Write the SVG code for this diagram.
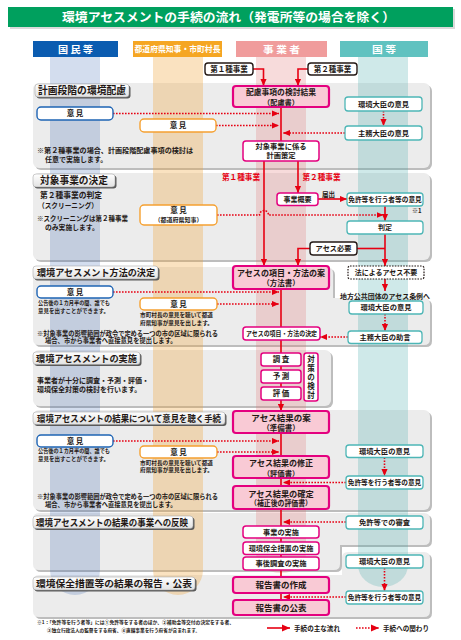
<svg xmlns="http://www.w3.org/2000/svg" width="461" height="640" viewBox="0 0 461 640">
<style>
.j{font-family:"Noto Sans CJK JP","Noto Sans CJK SC",sans-serif;font-weight:700;fill:#231815}
.w{fill:#fff}
.r{fill:#E60012}
.m{text-anchor:middle}
.pm{fill:#fff;stroke:#E4007F;stroke-width:1.5}
.pp{fill:#F9CAD5;stroke:#E4007F;stroke-width:2.2}
.pt{fill:#fff;stroke:#4DB6B6;stroke-width:1.3}
.pb{fill:#fff;stroke:#1E64B4;stroke-width:1.4}
.po{fill:#fff;stroke:#F5A030;stroke-width:1.4}
.pk{fill:#fff;stroke:#231815;stroke-width:1.4}
.pd{fill:#fff;stroke:#231815;stroke-width:1.2;stroke-dasharray:1.6 1.2}
.sol{stroke:#E60012;stroke-width:1.6;fill:none}
.dot{stroke:#E60012;stroke-width:1.6;fill:none;stroke-dasharray:1.6 1.4}
.pan{fill:#ECECEC}
.sh{fill:#BDBDBD}
.lab{fill:url(#lg);stroke:#9A9A9A;stroke-width:0.5}
.lsh{fill:#5A5A5A}
</style>
<defs>
<linearGradient id="lg" x1="0" y1="0" x2="0" y2="1"><stop offset="0" stop-color="#FFFFFF"/><stop offset="1" stop-color="#E2E2E2"/></linearGradient>
<marker id="ah" viewBox="0 0 8 8" refX="8" refY="4" markerWidth="7" markerHeight="7" markerUnits="userSpaceOnUse" orient="auto"><path d="M0,0.5 L8,4 L0,7.5 Z" fill="#E60012"/></marker>
<marker id="ahL" viewBox="0 0 8 8" refX="8" refY="4" markerWidth="10" markerHeight="8" markerUnits="userSpaceOnUse" orient="auto"><path d="M0,0.5 L8,4 L0,7.5 Z" fill="#E60012"/></marker>
</defs>
<rect width="461" height="640" fill="#fff"/>

<g id="title">
<rect x="10" y="9" width="445" height="20" fill="#DADADA"/>
<rect x="8" y="7" width="445" height="20" fill="#00A05E"/>
<text class="j w m" x="228.5" y="22" font-size="12.5" textLength="333" lengthAdjust="spacingAndGlyphs">環境アセスメントの手続の流れ（発電所等の場合を除く）</text>
</g>

<g id="headers">
<rect x="33" y="41" width="85" height="16" fill="#0B5CB0"/>
<text class="j w m" x="75.5" y="52.5" font-size="9.5" textLength="35" lengthAdjust="spacingAndGlyphs">国 民 等</text>
<rect x="133" y="41" width="89" height="16" fill="#F5A623"/>
<text class="j w m" x="177.5" y="52" font-size="8.5" textLength="86" lengthAdjust="spacingAndGlyphs">都道府県知事・市町村長</text>
<rect x="236" y="41" width="91" height="16" fill="#F09C9C"/>
<text class="j w m" x="281.5" y="52.5" font-size="9.5" textLength="37" lengthAdjust="spacingAndGlyphs">事 業 者</text>
<rect x="340" y="41" width="88" height="16" fill="#60C2C0"/>
<text class="j w m" x="384" y="52.5" font-size="9.5" textLength="24" lengthAdjust="spacingAndGlyphs">国 等</text>
</g>

<g id="panels">
<rect class="sh" x="35" y="85" width="397" height="85" rx="6"/>
<rect class="pan" x="33" y="83" width="397" height="85" rx="6"/>
<rect class="sh" x="35" y="175" width="397" height="87" rx="6"/>
<rect class="pan" x="33" y="173" width="397" height="87" rx="6"/>
<path class="sh" transform="translate(2,2)" d="M39,267 H327 Q333,267 333,273 V298 H424 Q430,298 430,304 V339 Q430,345 424,345 H39 Q33,345 33,339 V273 Q33,267 39,267 Z"/>
<path class="pan" d="M39,267 H327 Q333,267 333,273 V298 H424 Q430,298 430,304 V339 Q430,345 424,345 H39 Q33,345 33,339 V273 Q33,267 39,267 Z"/>
<rect class="sh" x="35" y="352" width="298" height="56" rx="6"/>
<rect class="pan" x="33" y="350" width="298" height="56" rx="6"/>
<rect class="sh" x="35" y="412" width="397" height="100" rx="6"/>
<rect class="pan" x="33" y="410" width="397" height="100" rx="6"/>
<path class="sh" transform="translate(2,2)" d="M39,513 H424 Q430,513 430,519 V539 Q430,545 424,545 H340 V564 Q340,570 334,570 H39 Q33,570 33,564 V519 Q33,513 39,513 Z"/>
<path class="pan" d="M39,513 H424 Q430,513 430,519 V539 Q430,545 424,545 H340 V564 Q340,570 334,570 H39 Q33,570 33,564 V519 Q33,513 39,513 Z"/>
<path class="sh" transform="translate(2,2)" d="M348,552 H424 Q430,552 430,558 V611 Q430,617 424,617 H39 Q33,617 33,611 V581 Q33,575 39,575 H342 V558 Q342,552 348,552 Z"/>
<path class="pan" d="M348,552 H424 Q430,552 430,558 V611 Q430,617 424,617 H39 Q33,617 33,611 V581 Q33,575 39,575 H342 V558 Q342,552 348,552 Z"/>
</g>

<g id="bands">
<path d="M50,57 H100 V570 A25,25 0 0 1 50,570 Z" fill="#2255AA" fill-opacity="0.2"/>
<path d="M153,57 H203 V570 A25,25 0 0 1 153,570 Z" fill="#F0A030" fill-opacity="0.3"/>
<path d="M256,57 H306 V553 A25,20 0 0 1 256,553 Z" fill="#E07070" fill-opacity="0.25"/>
<path d="M358,57 H408 V565 A25,22 0 0 1 358,565 Z" fill="#40A8A8" fill-opacity="0.25"/>
</g>

<g id="section-labels">
<rect class="lsh" x="36.5" y="85.5" width="94" height="13" rx="3"/>
<rect class="lab" x="35" y="84" width="94" height="13" rx="3"/>
<text class="j" x="38" y="94.3" font-size="10" textLength="88" lengthAdjust="spacingAndGlyphs">計画段階の環境配慮</text>
<rect class="lsh" x="34.5" y="175.5" width="82" height="13" rx="3"/>
<rect class="lab" x="33" y="174" width="82" height="13" rx="3"/>
<text class="j" x="40" y="184.3" font-size="10" textLength="68" lengthAdjust="spacingAndGlyphs">対象事業の決定</text>
<rect class="lsh" x="34.5" y="267.5" width="125" height="13" rx="3"/>
<rect class="lab" x="33" y="266" width="125" height="13" rx="3"/>
<text class="j" x="37" y="276.3" font-size="9.5" textLength="118" lengthAdjust="spacingAndGlyphs">環境アセスメント方法の決定</text>
<rect class="lsh" x="34.5" y="353.5" width="107" height="12.5" rx="3"/>
<rect class="lab" x="33" y="352" width="107" height="12.5" rx="3"/>
<text class="j" x="36" y="361.8" font-size="9.5" textLength="101" lengthAdjust="spacingAndGlyphs">環境アセスメントの実施</text>
<rect class="lsh" x="34.5" y="413.5" width="192" height="12.5" rx="3"/>
<rect class="lab" x="33" y="412" width="192" height="12.5" rx="3"/>
<text class="j" x="37" y="421.8" font-size="9" textLength="184" lengthAdjust="spacingAndGlyphs">環境アセスメントの結果について意見を聴く手続</text>
<rect class="lsh" x="34.5" y="517.5" width="160" height="12.5" rx="3"/>
<rect class="lab" x="33" y="516" width="160" height="12.5" rx="3"/>
<text class="j" x="36" y="525.8" font-size="9.5" textLength="152" lengthAdjust="spacingAndGlyphs">環境アセスメントの結果の事業への反映</text>
<rect class="lsh" x="34.5" y="578.5" width="162" height="13" rx="3"/>
<rect class="lab" x="33" y="577" width="162" height="13" rx="3"/>
<text class="j" x="36" y="587.3" font-size="9.5" textLength="156" lengthAdjust="spacingAndGlyphs">環境保全措置等の結果の報告・公表</text>
</g>

<g id="connectors">
<path class="sol" d="M253,69 H263.5 V86" marker-end="url(#ah)"/>
<path class="sol" d="M308,69 H298 V86" marker-end="url(#ah)"/>
<path class="sol" d="M281,107 V141"/>
<path class="dot" d="M113,113.5 H279" marker-end="url(#ah)"/>
<path class="dot" d="M216,125.5 H279" marker-end="url(#ah)"/>
<path class="dot" d="M383.5,111 V126" marker-end="url(#ah)"/>
<path class="dot" d="M345,133 H283" marker-end="url(#ah)"/>
<path class="sol" d="M264,161 V266" marker-end="url(#ah)"/>
<path class="sol" d="M298,161 V193" marker-end="url(#ah)"/>
<path class="sol" d="M318,199 H347" marker-end="url(#ah)"/>
<path class="sol" d="M385,206 V221" marker-end="url(#ah)"/>
<path class="dot" d="M217,215 H259.5 A4.5,4.5 0 0 1 268.5,215 H383.5" marker-end="url(#ah)"/>
<path class="sol" d="M385,234 V266" marker-end="url(#ah)"/>
<path class="sol" d="M385,248.5 H357"/>
<path class="sol" d="M310,248.5 H298 V266" marker-end="url(#ah)"/>
<path class="sol" d="M385,279 V291" marker-end="url(#ah)"/>
<path class="sol" d="M281,289 V327"/>
<path class="dot" d="M113,292 H279" marker-end="url(#ah)"/>
<path class="dot" d="M217,304 H279" marker-end="url(#ah)"/>
<path class="dot" d="M385,314 V331" marker-end="url(#ah)"/>
<path class="dot" d="M348,337 H320" marker-end="url(#ah)"/>
<path class="sol" d="M281,340 V353 M281,366 V370 M281,383 V387"/>
<path class="sol" d="M281,400 V411" marker-end="url(#ah)"/>
<path class="sol" d="M281,433 V456"/>
<path class="dot" d="M113,441 H279" marker-end="url(#ah)"/>
<path class="dot" d="M217,452 H279" marker-end="url(#ah)"/>
<path class="dot" d="M384.5,457.5 V476" marker-end="url(#ah)"/>
<path class="dot" d="M346,482.5 H283" marker-end="url(#ah)"/>
<path class="sol" d="M281,478 V486 M281,509 V526"/>
<path class="dot" d="M346,522 H283" marker-end="url(#ah)"/>
<path class="sol" d="M281,538 V542 M281,554.5 V557 M281,570 V577 M281,593 V600"/>
<path class="dot" d="M384.5,568 V591" marker-end="url(#ah)"/>
<path class="dot" d="M346,597 H283" marker-end="url(#ah)"/>
</g>

<g id="n-type1"><rect class="pk" x="205" y="63" width="48" height="12" rx="3"/><text class="j m" x="229" y="71.8" font-size="7.5">第１種事業</text></g>
<g id="n-type2"><rect class="pk" x="308" y="63" width="49" height="12" rx="3"/><text class="j m" x="332.5" y="71.8" font-size="7.5">第２種事業</text></g>
<g id="n-hairyo"><rect class="pp" x="233" y="86" width="96" height="21" rx="3"/><text class="j m"><tspan x="281" y="94.6" font-size="7.8" textLength="70" lengthAdjust="spacingAndGlyphs">配慮事項の検討結果</tspan><tspan x="281" y="104.6" font-size="7.2">（配慮書）</tspan></text></g>
<g id="n-env1"><rect class="pt" x="345" y="97" width="77" height="14" rx="3"/><text class="j m" x="383.5" y="106.5" font-size="7.3">環境大臣の意見</text></g>
<g id="n-shumu1"><rect class="pt" x="345" y="126" width="77" height="14" rx="3"/><text class="j m" x="383.5" y="135.5" font-size="7.3">主務大臣の意見</text></g>
<g id="n-op-b1"><rect class="pb" x="37" y="107" width="76" height="13" rx="4"/><text class="j m" x="75" y="116.3" font-size="7.5">意 見</text></g>
<g id="n-op-o1"><rect class="po" x="140" y="119" width="76" height="13" rx="4"/><text class="j m" x="178" y="128.3" font-size="7.5">意 見</text></g>
<g id="note1"><text class="j" font-size="7"><tspan x="37" y="153" textLength="156" lengthAdjust="spacingAndGlyphs">※第２種事業の場合、計画段階配慮事項の検討は</tspan><tspan x="45" y="162">任意で実施します。</tspan></text></g>
<g id="n-keikaku"><rect class="pm" x="243" y="141" width="76" height="20" rx="3"/><text class="j m" font-size="7.3"><tspan x="281" y="149.3">対象事業に係る</tspan><tspan x="281" y="158.3">計画策定</tspan></text></g>
<g id="lbl-type"><text class="j r m" x="241" y="179.5" font-size="7.6">第１種事業</text><text class="j r m" x="321.5" y="179.5" font-size="7.6">第２種事業</text></g>
<g id="n-gaiyo"><rect class="pm" x="277" y="193" width="41" height="12.5" rx="3"/><text class="j m" x="297.5" y="201.8" font-size="7">事業概要</text></g>
<g id="lbl-todokede"><text class="j" x="322" y="197" font-size="6.5">届出</text></g>
<g id="n-menkyo1"><rect class="pt" x="347" y="193" width="76" height="13" rx="3"/><text class="j m" x="385" y="202" font-size="6.7">免許等を行う者等の意見</text><text class="j" x="412" y="212.5" font-size="6">※1</text></g>
<g id="n-op-o2"><rect class="po" x="140" y="205" width="77" height="20" rx="4"/><text class="j m"><tspan x="178.5" y="213.3" font-size="7.5">意 見</tspan><tspan x="178.5" y="222" font-size="6">（都道府県知事）</tspan></text></g>
<g id="note2"><text class="j"><tspan x="40" y="198" font-size="7.8" textLength="62" lengthAdjust="spacingAndGlyphs">第２種事業の判定</tspan><tspan x="38" y="208" font-size="7.2" textLength="60" lengthAdjust="spacingAndGlyphs">（スクリーニング）</tspan></text><text class="j" font-size="6.8"><tspan x="37" y="221" textLength="91" lengthAdjust="spacingAndGlyphs">※スクリーニングは第２種事業</tspan><tspan x="45" y="230">のみ実施します。</tspan></text></g>
<g id="n-hantei"><rect class="pt" x="347" y="221" width="76" height="13" rx="3"/><text class="j m" x="385" y="230.2" font-size="7">判定</text></g>
<g id="n-need"><rect class="pk" x="310" y="242" width="47" height="13" rx="3"/><text class="j m" x="333.5" y="251.2" font-size="7.2">アセス必要</text></g>
<g id="n-fuyou"><rect class="pd" x="348" y="266" width="76" height="13" rx="2"/><text class="j m" x="386" y="275.2" font-size="7">法によるアセス不要</text></g>
<g id="lbl-jorei"><text class="j m" x="385" y="298.5" font-size="7" textLength="90" lengthAdjust="spacingAndGlyphs">地方公共団体のアセス条例へ</text></g>
<g id="n-houhou"><rect class="pp" x="233" y="266" width="96" height="23" rx="3"/><text class="j m"><tspan x="281" y="276.3" font-size="8.5" textLength="88" lengthAdjust="spacingAndGlyphs">アセスの項目・方法の案</tspan><tspan x="281" y="286" font-size="7.5">（方法書）</tspan></text></g>
<g id="n-env2"><rect class="pt" x="349" y="301" width="74" height="13" rx="3"/><text class="j m" x="386" y="310.3" font-size="7.3">環境大臣の意見</text></g>
<g id="n-josen"><rect class="pt" x="348" y="331" width="74" height="12.5" rx="3"/><text class="j m" x="385" y="340" font-size="7.3">主務大臣の助言</text></g>
<g id="n-op-b2"><rect class="pb" x="37" y="286" width="76" height="12" rx="4"/><text class="j m" x="75" y="294.8" font-size="7.5">意 見</text><text class="j" font-size="5.5"><tspan x="38" y="305" textLength="72" lengthAdjust="spacingAndGlyphs">公告後の１カ月半の間、誰でも</tspan><tspan x="38" y="313">意見を出すことができます。</tspan></text></g>
<g id="n-op-o3"><rect class="po" x="140" y="298" width="77" height="12" rx="4"/><text class="j m" x="178.5" y="306.8" font-size="7.5">意 見</text><text class="j" font-size="5.7"><tspan x="140" y="317" textLength="73" lengthAdjust="spacingAndGlyphs">市町村長の意見を聴いて都道</tspan><tspan x="140" y="325" textLength="73" lengthAdjust="spacingAndGlyphs">府県知事が意見を出します。</tspan></text></g>
<g id="note3"><text class="j" font-size="6.3"><tspan x="37" y="335.5" textLength="181" lengthAdjust="spacingAndGlyphs">※対象事業の影響範囲が政令で定める一つの市の区域に限られる</tspan><tspan x="45" y="343.3">場合、市から事業者へ直接意見を提出します。</tspan></text></g>
<g id="n-kettei"><rect class="pm" x="243" y="327" width="77" height="13" rx="3"/><text class="j m" x="281.5" y="336" font-size="6.5" textLength="71" lengthAdjust="spacingAndGlyphs">アセスの項目・方法の決定</text></g>
<g id="n-chousa"><rect class="pm" x="261" y="353" width="40" height="13" rx="2.5"/><text class="j m" x="281" y="362.3" font-size="7.5">調 査</text></g>
<g id="n-yosoku"><rect class="pm" x="261" y="370" width="40" height="13" rx="2.5"/><text class="j m" x="281" y="379.3" font-size="7.5">予 測</text></g>
<g id="n-hyoka"><rect class="pm" x="261" y="387" width="40" height="13" rx="2.5"/><text class="j m" x="281" y="396.3" font-size="7.5">評 価</text></g>
<g id="n-taisaku"><rect class="pm" x="304" y="353" width="14" height="48" rx="2.5"/><text class="j" x="311" y="377" writing-mode="vertical-rl" text-anchor="middle" font-size="7.5" textLength="43" lengthAdjust="spacing">対策の検討</text></g>
<g id="note4"><text class="j" font-size="7"><tspan x="37" y="383" textLength="112" lengthAdjust="spacingAndGlyphs">事業者が十分に調査・予測・評価・</tspan><tspan x="37" y="392">環境保全対策の検討を行います。</tspan></text></g>
<g id="n-junbi"><rect class="pp" x="233" y="411" width="96" height="22" rx="3"/><text class="j m"><tspan x="281" y="421" font-size="8.5">アセス結果の案</tspan><tspan x="281" y="430.5" font-size="7.5">（準備書）</tspan></text></g>
<g id="n-op-b3"><rect class="pb" x="37" y="435" width="76" height="12" rx="4"/><text class="j m" x="75" y="443.8" font-size="7.5">意 見</text><text class="j" font-size="5.5"><tspan x="38" y="453" textLength="72" lengthAdjust="spacingAndGlyphs">公告後の１カ月半の間、誰でも</tspan><tspan x="38" y="460.5">意見を出すことができます。</tspan></text></g>
<g id="n-op-o4"><rect class="po" x="140" y="446" width="77" height="12" rx="4"/><text class="j m" x="178.5" y="454.8" font-size="7.5">意 見</text><text class="j" font-size="5.7"><tspan x="140" y="464.5" textLength="73" lengthAdjust="spacingAndGlyphs">市町村長の意見を聴いて都道</tspan><tspan x="140" y="472" textLength="73" lengthAdjust="spacingAndGlyphs">府県知事が意見を出します。</tspan></text></g>
<g id="n-hyoukasho"><rect class="pp" x="233" y="456" width="96" height="22" rx="3"/><text class="j m"><tspan x="281" y="465.6" font-size="8">アセス結果の修正</tspan><tspan x="281" y="475.6" font-size="7.3">（評価書）</tspan></text></g>
<g id="n-env3"><rect class="pt" x="346" y="445" width="77" height="12.5" rx="3"/><text class="j m" x="384.5" y="454" font-size="7.3">環境大臣の意見</text></g>
<g id="n-menkyo2"><rect class="pt" x="346" y="476" width="77" height="13" rx="3"/><text class="j m" x="384.5" y="485.2" font-size="6.7">免許等を行う者等の意見</text></g>
<g id="n-kakutei"><rect class="pp" x="233" y="486" width="96" height="23" rx="3"/><text class="j m"><tspan x="281" y="496.5" font-size="8.2">アセス結果の確定</tspan><tspan x="281" y="506" font-size="7.5" textLength="62" lengthAdjust="spacingAndGlyphs">（補正後の評価書）</tspan></text></g>
<g id="note5"><text class="j" font-size="6.3"><tspan x="37" y="498.5" textLength="181" lengthAdjust="spacingAndGlyphs">※対象事業の影響範囲が政令で定める一つの市の区域に限られる</tspan><tspan x="45" y="506.5">場合、市から事業者へ直接意見を提出します。</tspan></text></g>
<g id="n-shinsa"><rect class="pt" x="346" y="516" width="77" height="13" rx="3"/><text class="j m" x="384.5" y="525.2" font-size="7.3">免許等での審査</text></g>
<g id="n-jisshi"><rect class="pm" x="243" y="526" width="76" height="12" rx="3"/><text class="j m" x="281" y="534.7" font-size="7.2">事業の実施</text></g>
<g id="n-hozen"><rect class="pm" x="243" y="542" width="76" height="12.5" rx="3"/><text class="j m" x="281" y="551" font-size="7.2">環境保全措置の実施</text></g>
<g id="n-jigo"><rect class="pm" x="243" y="557" width="76" height="13" rx="3"/><text class="j m" x="281" y="566.3" font-size="7.3">事後調査の実施</text></g>
<g id="n-env4"><rect class="pt" x="346" y="555" width="77" height="13" rx="3"/><text class="j m" x="384.5" y="564.2" font-size="7.3">環境大臣の意見</text></g>
<g id="n-menkyo3"><rect class="pt" x="346" y="591" width="77" height="13" rx="3"/><text class="j m" x="384.5" y="600.2" font-size="6.7">免許等を行う者等の意見</text></g>
<g id="n-sakusei"><rect class="pp" x="233" y="577" width="96" height="16" rx="3"/><text class="j m" x="281" y="588" font-size="8.5">報告書の作成</text></g>
<g id="n-kouhyou"><rect class="pp" x="233" y="600" width="96" height="15" rx="3"/><text class="j m" x="281" y="610.5" font-size="8.5">報告書の公表</text></g>

<g id="footnote"><text class="j" font-size="5"><tspan x="37" y="624" textLength="197" lengthAdjust="spacingAndGlyphs">※1：「免許等を行う者等」には①免許等をする者のほか、②補助金等交付の決定をする者、</tspan><tspan x="47" y="632" textLength="153" lengthAdjust="spacingAndGlyphs">③独立行政法人の監督をする府省、④直轄事業を行う府省が含まれます。</tspan></text></g>

<g id="legend">
<path class="sol" d="M267,628 H290" marker-end="url(#ahL)"/>
<text class="j" x="294" y="630.5" font-size="6.7" textLength="46" lengthAdjust="spacingAndGlyphs">手続の主な流れ</text>
<path class="dot" d="M356,628 H379" marker-end="url(#ahL)"/>
<text class="j" x="383" y="630.5" font-size="6.7" textLength="46" lengthAdjust="spacingAndGlyphs">手続への関わり</text>
</g>
</svg>
